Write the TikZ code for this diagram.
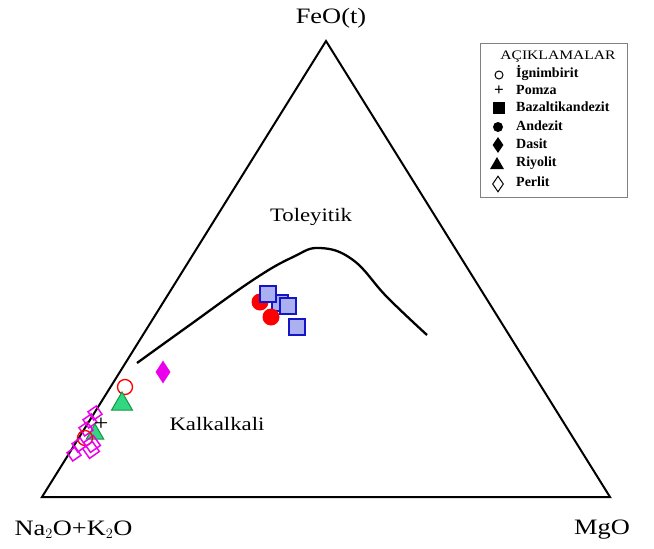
\documentclass[tikz,border=0pt]{standalone}
\usepackage{fontspec}
\setmainfont{Liberation Serif}[FakeStretch=1.2]
\newfontfamily\legfont{Liberation Serif}[UprightFont=* Bold]
\usetikzlibrary{shapes.geometric}

\definecolor{ptred}{RGB}{255,0,0}
\definecolor{ptblue}{RGB}{170,176,240}
\definecolor{ptblueline}{RGB}{20,20,200}
\definecolor{ptgreen}{RGB}{50,215,130}
\definecolor{ptgreenline}{RGB}{20,150,70}
\definecolor{ptmag}{RGB}{235,0,235}

\tikzset{
  ignim/.style={circle,draw=ptred,line width=1.3pt,minimum size=15pt,inner sep=0pt},
  andez/.style={circle,fill=ptred,minimum size=17pt,inner sep=0pt},
  bazalt/.style={rectangle,draw=ptblueline,fill=ptblue,line width=1.6pt,minimum size=16pt,inner sep=0pt},
  dasit/.style={diamond,fill=ptmag,minimum width=15pt,minimum height=23pt,inner sep=0pt},
  riyo/.style={regular polygon,regular polygon sides=3,draw=ptgreenline,fill=ptgreen,line width=1pt,minimum size=24pt,inner sep=0pt},
  perlit/.style={rectangle,draw=ptmag,line width=1.5pt,minimum size=10pt,inner sep=0pt,rotate=35},
  pomza/.style={font=\fontsize{22}{22}\selectfont,inner sep=0pt},
  legtext/.style={anchor=west,font=\fontsize{14}{14}\legfont,inner sep=0pt},
}

\begin{document}
\begin{tikzpicture}[x=1pt,y=-1pt]
\useasboundingbox (0,0) rectangle (654,549);

% triangle
\coordinate (na) at (42,497);
\coordinate (mg) at (610,497);
\coordinate (fe) at (326,41);
\draw[line width=2pt,line join=miter] (na) -- (fe) -- (mg) -- cycle;

\node (lblfe) at (331,18) {\fontsize{22}{22}\selectfont FeO(t)};
\node[anchor=west] (lblna) at (11,530) {\fontsize{22}{22}\selectfont Na$_2$O+K$_2$O};
\node (lblmg) at (602,530) {\fontsize{22}{22}\selectfont MgO};

% dividing line
\draw[line width=2.3pt] plot[smooth,tension=0.7] coordinates {(137,363) (187,327) (253,280) (293,257) (320,248) (353,260) (387,297) (427,335)};

\node (toley) at (311,217) {\fontsize{19}{19}\selectfont Toleyitik};
\node (kalk) at (217,424) {\fontsize{19}{19}\selectfont Kalkalkali};

% data points
\node[andez] (an1) at (260,302) {};
\node[bazalt] (bz2) at (280,303) {};
\node[bazalt] (bz1) at (268,294) {};
\node[andez] (an2) at (271,317) {};
\node[bazalt] (bz3) at (288,306) {};
\node[bazalt] (bz4) at (297,327) {};

\node[dasit] (ds1) at (163,372) {};
\node[ignim] (ig1) at (125,387) {};
\node[riyo] (ry1) at (122,404) {};

\node[perlit] (pe1) at (95,413) {};
\node[perlit] (pe2) at (90,421) {};
\node[riyo,minimum size=20pt] (ry2) at (95,434) {};
\node[pomza] (pm1) at (101,424) {+};
\node[perlit] (pe3) at (86,429) {};
\node[perlit,minimum size=12pt] (pe4) at (92,444) {};
\node[ignim] (ig2) at (85,438) {};
\node[perlit,minimum size=12pt] (pe5) at (91,450) {};
\node[perlit] (pe6) at (79,445) {};
\node[perlit] (pe7) at (74,454) {};

% legend
\draw[gray,line width=0.8pt] (480,43) rectangle (627,197);
\node (legtitle) at (558,57) {\fontsize{13}{13}\selectfont AÇIKLAMALAR};
\node[circle,draw,line width=1pt,minimum size=8pt,inner sep=0pt] (ls1) at (499,75) {};
\node[inner sep=0pt,font=\fontsize{17}{17}\legfont] (ls2) at (499,91) {+};
\node[rectangle,fill,minimum size=12pt,inner sep=0pt] (ls3) at (499,108) {};
\node[circle,fill,minimum size=10pt,inner sep=0pt] (ls4) at (498,127) {};
\node[diamond,fill,minimum width=11pt,minimum height=16pt,inner sep=0pt] (ls5) at (498,145) {};
\node[regular polygon,regular polygon sides=3,fill,minimum size=16pt,inner sep=0pt] (ls6) at (497,165) {};
\node[diamond,draw,line width=1pt,minimum width=11pt,minimum height=16pt,inner sep=0pt] (ls7) at (498,184) {};
\node[legtext] (lt1) at (516,73) {İgnimbirit};
\node[legtext] (lt2) at (516,90) {Pomza};
\node[legtext] (lt3) at (516,107) {Bazaltikandezit};
\node[legtext] (lt4) at (516,126) {Andezit};
\node[legtext] (lt5) at (516,144) {Dasit};
\node[legtext] (lt6) at (516,163) {Riyolit};
\node[legtext] (lt7) at (516,182) {Perlit};
\end{tikzpicture}
\end{document}
